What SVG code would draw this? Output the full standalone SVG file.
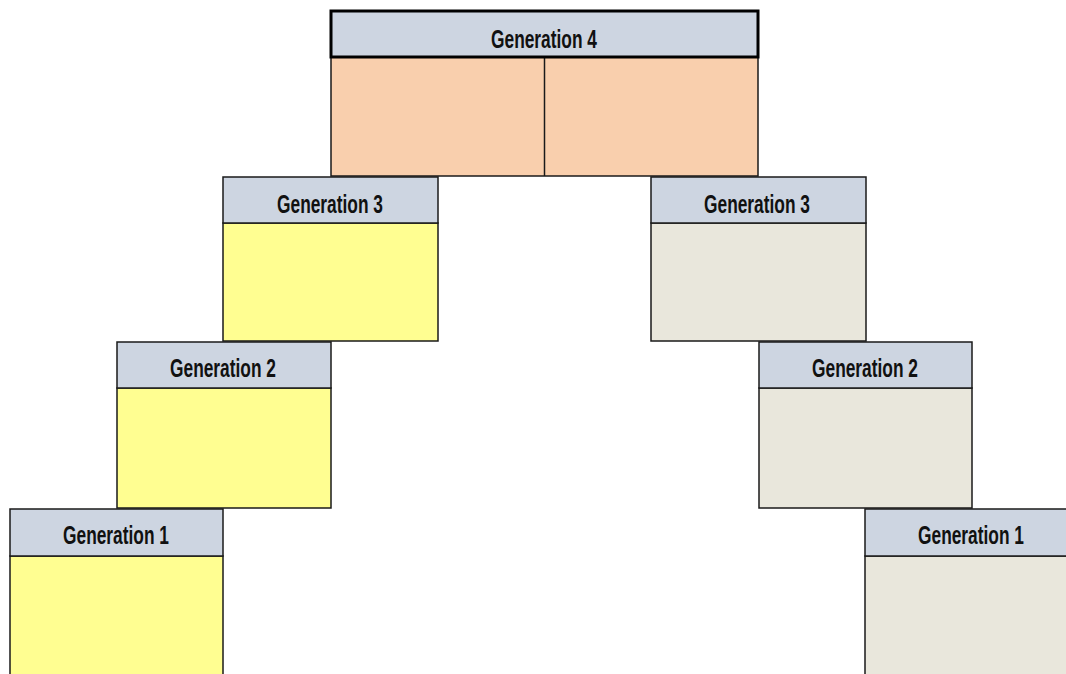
<svg xmlns="http://www.w3.org/2000/svg" width="1066" height="674" viewBox="0 0 1066 674">
<style>
.hdr{fill:#CDD5E1;stroke:#1a1a1a;stroke-width:1.5}
.y{fill:#FFFE91;stroke:#1a1a1a;stroke-width:1.5}
.b{fill:#E9E7DC;stroke:#1a1a1a;stroke-width:1.5}
.p{fill:#F9CFAD;stroke:#1a1a1a;stroke-width:1.5}
.t{font-family:"Liberation Sans",Arial,sans-serif;font-weight:bold;font-size:25px;fill:#111;text-anchor:middle}
</style>
<rect width="1066" height="674" fill="#ffffff"/>
<g id="gen4">
<rect class="p" x="331" y="57" width="427" height="119"/>
<line x1="544.5" y1="57" x2="544.5" y2="176" stroke="#1a1a1a" stroke-width="1.5"/>
<rect x="331" y="11" width="427" height="46" fill="#CDD5E1" stroke="#000" stroke-width="3"/>
<text class="t" x="544" y="48" textLength="106" lengthAdjust="spacingAndGlyphs">Generation 4</text>
</g>
<g id="gen3-left">
<rect class="y" x="223" y="223" width="215" height="118"/>
<rect class="hdr" x="223" y="177" width="215" height="46"/>
<text class="t" x="330" y="213" textLength="106" lengthAdjust="spacingAndGlyphs">Generation 3</text>
</g>
<g id="gen3-right">
<rect class="b" x="651" y="223" width="215" height="118"/>
<rect class="hdr" x="651" y="177" width="215" height="46"/>
<text class="t" x="757" y="213" textLength="106" lengthAdjust="spacingAndGlyphs">Generation 3</text>
</g>
<g id="gen2-left">
<rect class="y" x="117" y="388" width="214" height="120"/>
<rect class="hdr" x="117" y="342" width="214" height="46"/>
<text class="t" x="223" y="377" textLength="106" lengthAdjust="spacingAndGlyphs">Generation 2</text>
</g>
<g id="gen2-right">
<rect class="b" x="759" y="388" width="213" height="120"/>
<rect class="hdr" x="759" y="342" width="213" height="46"/>
<text class="t" x="865" y="377" textLength="106" lengthAdjust="spacingAndGlyphs">Generation 2</text>
</g>
<g id="gen1-left">
<rect class="y" x="10" y="556" width="213" height="119"/>
<rect class="hdr" x="10" y="509" width="213" height="47"/>
<text class="t" x="116" y="544" textLength="106" lengthAdjust="spacingAndGlyphs">Generation 1</text>
</g>
<g id="gen1-right">
<rect class="b" x="865" y="556" width="202" height="119"/>
<rect class="hdr" x="865" y="509" width="202" height="47"/>
<text class="t" x="971" y="544" textLength="106" lengthAdjust="spacingAndGlyphs">Generation 1</text>
</g>
<g id="connectors"></g>
</svg>
